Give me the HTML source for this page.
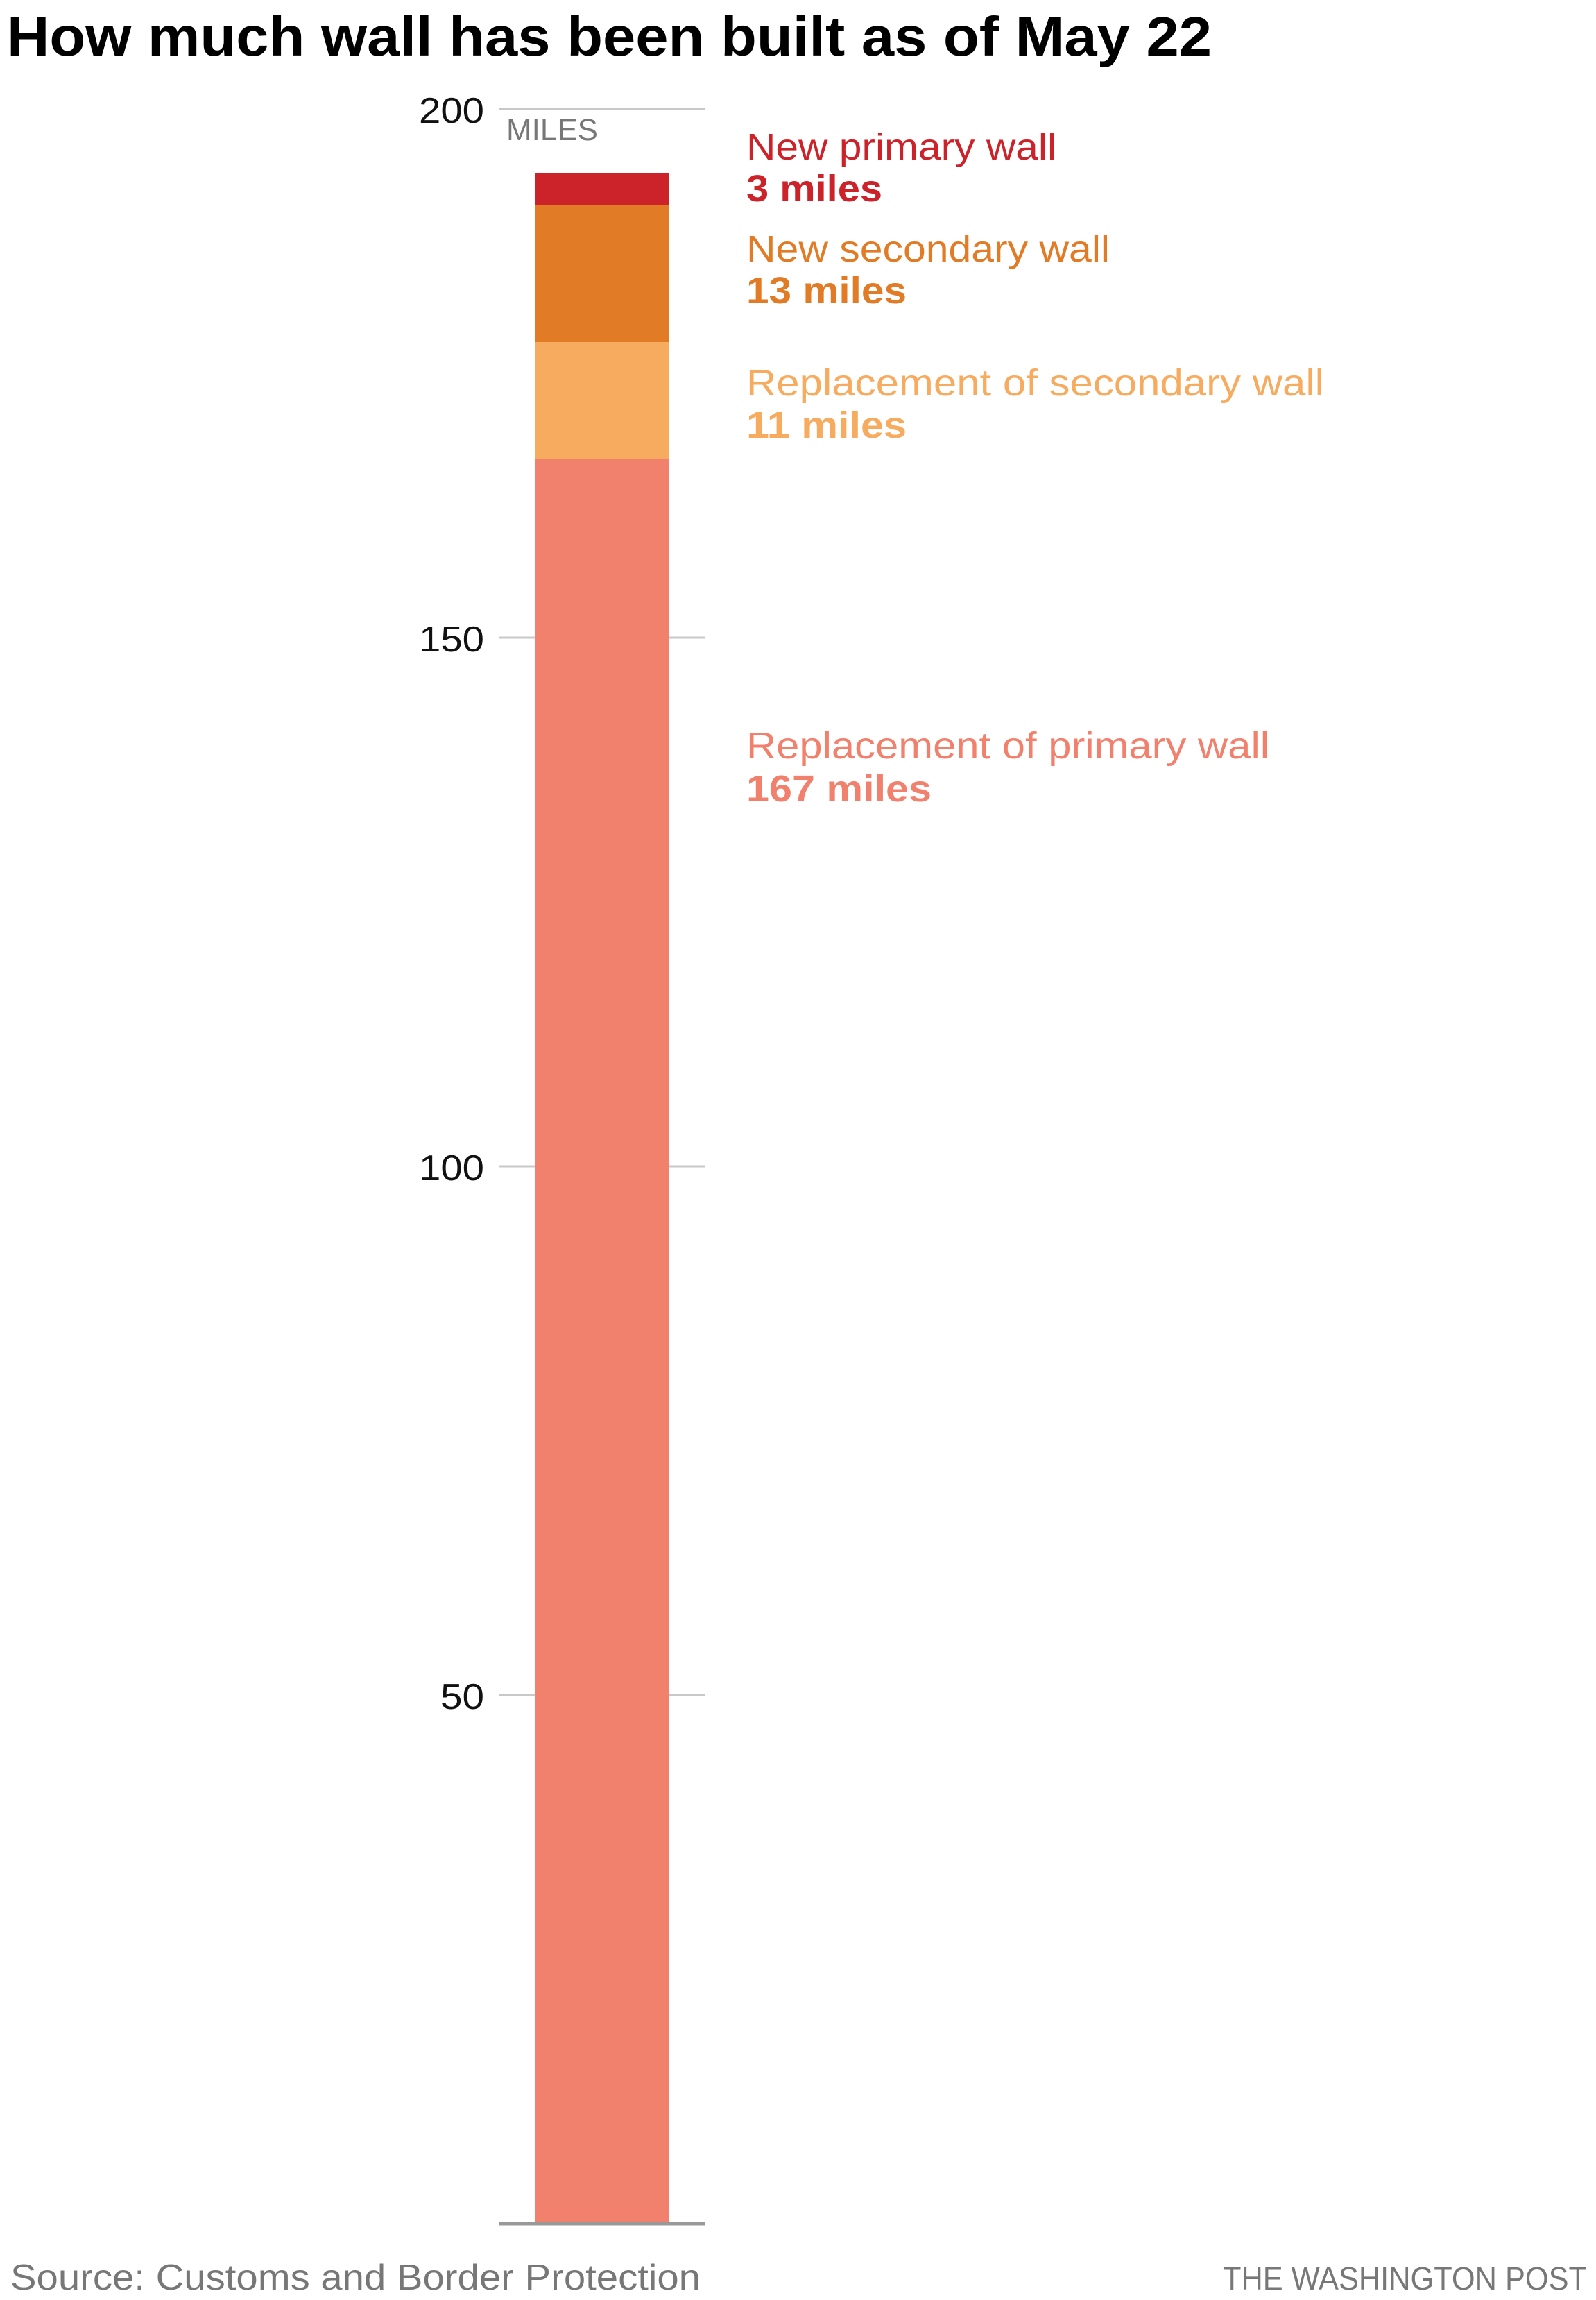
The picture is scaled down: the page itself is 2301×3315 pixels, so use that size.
<!DOCTYPE html>
<html><head><meta charset="utf-8"><style>html,body{margin:0;padding:0;background:#fff}svg{display:block}</style></head>
<body>
<svg width="2301" height="3315" viewBox="0 0 2301 3315" xmlns="http://www.w3.org/2000/svg" font-family="Liberation Sans, Arial, sans-serif">
<rect width="2301" height="3315" fill="#fff"/>
<text x="10" y="80" font-size="80" font-weight="bold" fill="#000" textLength="1737" lengthAdjust="spacingAndGlyphs">How much wall has been built as of May 22</text>
<g stroke="#c8c8c8" stroke-width="3">
<line x1="720" y1="157" x2="1016" y2="157"/>
<line x1="720" y1="919" x2="1016" y2="919"/>
<line x1="720" y1="1681" x2="1016" y2="1681"/>
<line x1="720" y1="2443" x2="1016" y2="2443"/>
</g>
<g font-size="52" fill="#111" text-anchor="end">
<text x="698" y="177" textLength="94" lengthAdjust="spacingAndGlyphs">200</text>
<text x="698" y="939" textLength="94" lengthAdjust="spacingAndGlyphs">150</text>
<text x="698" y="1701" textLength="94" lengthAdjust="spacingAndGlyphs">100</text>
<text x="698" y="2463" textLength="63" lengthAdjust="spacingAndGlyphs">50</text>
</g>
<text x="730" y="202" font-size="44" fill="#777" textLength="132" lengthAdjust="spacingAndGlyphs">MILES</text>
<rect x="772" y="249" width="193" height="46" fill="#cc2229"/>
<rect x="772" y="295" width="193" height="198" fill="#e27b25"/>
<rect x="772" y="493" width="193" height="168" fill="#f6ab5f"/>
<rect x="772" y="661" width="193" height="2544" fill="#f1806d"/>
<line x1="720" y1="3205" x2="1016" y2="3205" stroke="#999" stroke-width="5"/>
<g font-size="54">
<text x="1076" y="230" fill="#cc2229" textLength="447" lengthAdjust="spacingAndGlyphs">New primary wall</text>
<text x="1076" y="290" fill="#cc2229" font-weight="bold" textLength="196" lengthAdjust="spacingAndGlyphs">3 miles</text>
<text x="1076" y="377" fill="#e27b25" textLength="524" lengthAdjust="spacingAndGlyphs">New secondary wall</text>
<text x="1076" y="437" fill="#e27b25" font-weight="bold" textLength="231" lengthAdjust="spacingAndGlyphs">13 miles</text>
<text x="1076" y="570" fill="#f6ab5f" textLength="833" lengthAdjust="spacingAndGlyphs">Replacement of secondary wall</text>
<text x="1076" y="631" fill="#f6ab5f" font-weight="bold" textLength="231" lengthAdjust="spacingAndGlyphs">11 miles</text>
<text x="1076" y="1093" fill="#f1806d" textLength="754" lengthAdjust="spacingAndGlyphs">Replacement of primary wall</text>
<text x="1076" y="1155" fill="#f1806d" font-weight="bold" textLength="267" lengthAdjust="spacingAndGlyphs">167 miles</text>
</g>
<text x="15" y="3300" font-size="52" fill="#777" textLength="995" lengthAdjust="spacingAndGlyphs">Source: Customs and Border Protection</text>
<text x="2288" y="3300" font-size="46" fill="#777" text-anchor="end" textLength="525" lengthAdjust="spacingAndGlyphs">THE WASHINGTON POST</text>
</svg>
</body></html>
